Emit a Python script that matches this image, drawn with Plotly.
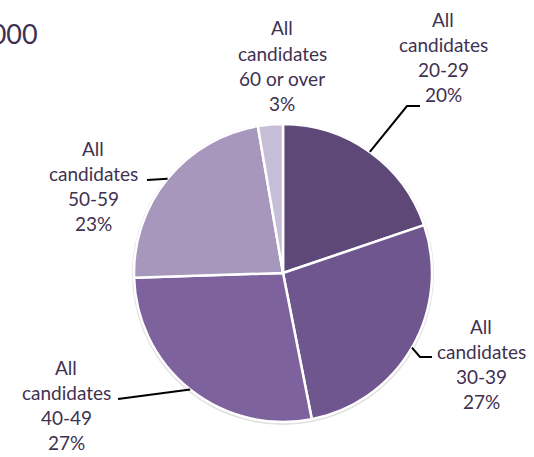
import math
import plotly.graph_objects as go

# ---- data ----
categories = ["All candidates 20-29", "All candidates 30-39", "All candidates 40-49",
              "All candidates 50-59", "All candidates 60 or over"]
age_groups = ["20-29", "30-39", "40-49", "50-59", "60 or over"]
shares = [19.8, 27.1, 27.6, 22.8, 2.7]
share_labels = ["20%", "27%", "27%", "23%", "3%"]
colors = ["#5E4878", "#70568F", "#7E629D", "#A797BC", "#C6BED7"]
title_text = "2000"

W, H = 534, 457
TXT = "#3F3151"
FONT = "Lato"

def px(x):
    return x / W

def py(y):
    return 1 - y / H

# pie geometry (pixels)
cx, cy, r = 283, 273, 149

fig = go.Figure(go.Pie(
    labels=categories, values=shares, sort=False, direction="clockwise", rotation=0,
    marker=dict(colors=colors, line=dict(color="white", width=2.5)),
    textinfo="none", hoverinfo="skip", showlegend=False,
    domain=dict(x=[px(cx - r), px(cx + r)], y=[py(cy + r), py(cy - r)]),
))

# label blocks: (x centre, first-line y, index)
label_pos = {0: (443, 19), 4: (282, 28), 3: (93, 148), 1: (481, 326), 2: (66, 367)}
spacing = 25.3
annotations = []
for i, (lx, ly) in label_pos.items():
    lines = ["All", "candidates", age_groups[i], share_labels[i]]
    for k, t in enumerate(lines):
        annotations.append(dict(text=t, x=px(lx), y=py(ly + k * spacing), xref="paper", yref="paper",
                                xanchor="center", yanchor="middle", showarrow=False,
                                font=dict(family=FONT, size=19, color=TXT)))

annotations.append(dict(text=title_text, x=px(40), y=py(33), xref="paper", yref="paper",
                        xanchor="right", yanchor="middle", showarrow=False,
                        font=dict(family=FONT, size=27, color=TXT)))

# leader lines from slice mid-angles
total = sum(shares)
mids = []
acc = 0
for v in shares:
    mids.append((acc + v / 2) / total * 2 * math.pi)
    acc += v

def edge(i):
    a = mids[i]
    return cx + r * math.sin(a), cy - r * math.cos(a)

leader_paths = {
    0: [(407, 106), (420, 106)],
    3: [(147, 180)],
    1: [(420, 357), (432, 357)],
    2: [(118, 399)],
}
shapes = []
# faint shadow around the pie
shapes.append(dict(type="circle", xref="paper", yref="paper", layer="below",
                   x0=px(cx - r - 2), x1=px(cx + r + 2), y0=py(cy + r + 3), y1=py(cy - r - 1),
                   fillcolor="rgba(0,0,0,0.12)", line=dict(width=0)))
for i, pts in leader_paths.items():
    x0, y0 = edge(i)
    allpts = [(x0, y0)] + pts
    path = "M " + " L ".join(f"{px(x)},{py(y)}" for x, y in allpts)
    shapes.append(dict(type="path", xref="paper", yref="paper", path=path,
                       line=dict(color="black", width=2)))

fig.update_layout(
    width=W, height=H, margin=dict(l=0, r=0, t=0, b=0),
    paper_bgcolor="white", plot_bgcolor="white",
    annotations=annotations, shapes=shapes,
)
fig.write_html("out.html", config={"displayModeBar": False},
               post_script="document.body.style.margin='0';document.body.style.overflow='hidden';")
